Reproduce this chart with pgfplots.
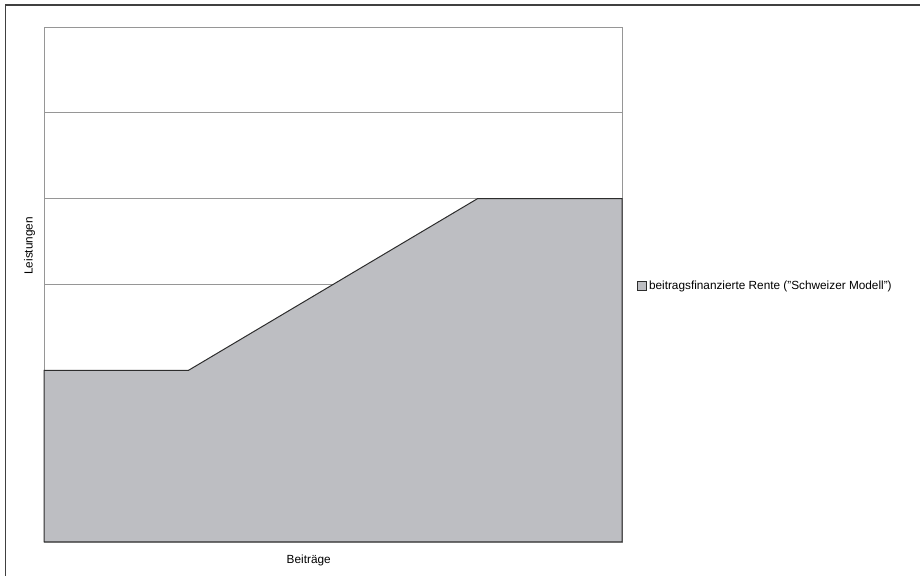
\documentclass[border=0pt]{standalone}
\usepackage{pgfplots}
\pgfplotsset{compat=1.18}
\usepackage{fontspec}
\setmainfont{Liberation Sans}
\definecolor{areafill}{RGB}{189,190,194}
\definecolor{areadraw}{RGB}{45,45,45}
\definecolor{gridgray}{RGB}{150,150,150}
\begin{document}
\begin{tikzpicture}[x=1bp,y=1bp]
\useasboundingbox (0,0) rectangle (920,576);
\draw[line width=1.4bp, color=black!75] (5.5,0) -- (5.5,571) -- (920,571);
\begin{axis}[
  at={(44bp,34bp)}, anchor=south west,
  scale only axis, width=578bp, height=515bp,
  xmin=0, xmax=4, ymin=0, ymax=6,
  xtick=\empty, ytick={0,1,...,6}, yticklabels={},
  major tick length=0pt,
  ymajorgrids, grid style={gridgray, line width=0.8bp},
  axis line style={gridgray, line width=0.8bp},
  font=\fontsize{11.8bp}{14bp}\selectfont,
  xlabel={Beiträge}, ylabel={Leistungen},
  xlabel style={at={(axis description cs:0.458,-0.035)}, anchor=center},
  ylabel style={at={(axis description cs:-0.025,0.575)}, anchor=center, rotate=0},
  legend style={at={(1.026,0.497)}, anchor=west, draw=none, fill=none, inner sep=0pt,
    font=\fontsize{11.8bp}{14bp}\selectfont},
  legend image code/.code={\draw[#1, line width=0.8bp] (0bp,-4.5bp) rectangle (9bp,4.5bp);},
  legend cell align=left,
  clip=false,
]
\addplot[fill=areafill, draw=areadraw, line width=1bp] coordinates {(0,0) (0,2) (1,2) (3,4) (4,4) (4,0)} -- cycle;
\addlegendentry{beitragsfinanzierte Rente ("Schweizer Modell")}
\end{axis}
\end{tikzpicture}
\end{document}
